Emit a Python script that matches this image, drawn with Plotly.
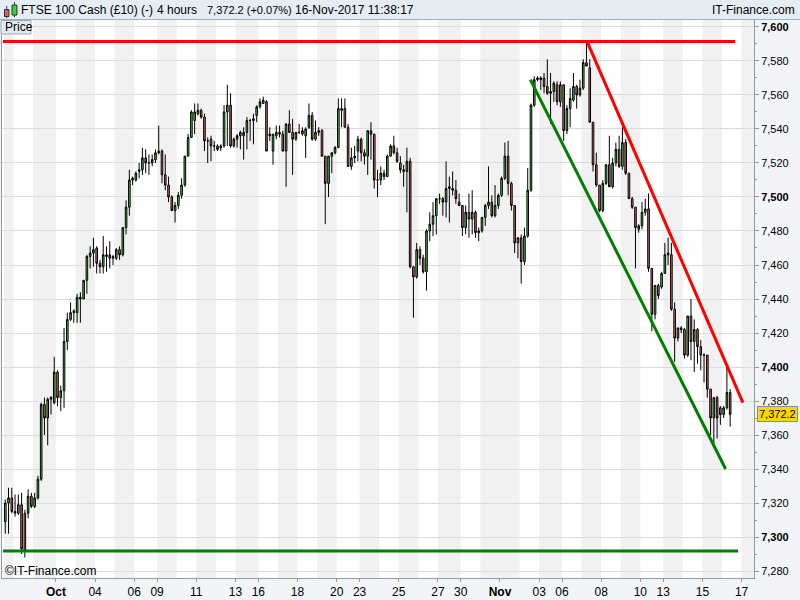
import pandas as pd
import plotly.graph_objects as go

# 4-hour candles, FTSE 100 Cash, 27-Sep-2017 .. 16-Nov-2017
opens = [
    7309, 7320, 7323, 7315, 7314, 7319, 7314, 7314, 7324, 7318,
    7323, 7334, 7378, 7370, 7381, 7379, 7397, 7382, 7386, 7415,
    7428, 7433, 7432, 7441, 7440, 7451, 7465, 7467, 7470, 7461,
    7459, 7466, 7466, 7464, 7464, 7469, 7466, 7482, 7494, 7510,
    7510, 7515, 7516, 7523, 7520, 7520, 7522, 7526, 7527, 7513,
    7507, 7500, 7492, 7495, 7501, 7507, 7524, 7535, 7545, 7549,
    7551, 7547, 7533, 7534, 7530, 7530, 7529, 7530, 7550, 7554,
    7530, 7534, 7536, 7536, 7538, 7545, 7546, 7548, 7553, 7555,
    7556, 7536, 7527, 7536, 7538, 7537, 7527, 7543, 7538, 7534,
    7538, 7537, 7536, 7541, 7548, 7534, 7538, 7539, 7524, 7508,
    7524, 7526, 7529, 7552, 7552, 7541, 7518, 7523, 7527, 7534,
    7526, 7524, 7539, 7537, 7510, 7510, 7514, 7512, 7524, 7530,
    7526, 7520, 7516, 7515, 7521, 7459, 7453, 7469, 7464, 7456,
    7480, 7484, 7489, 7499, 7499, 7497, 7505, 7505, 7504, 7497,
    7495, 7482, 7491, 7487, 7491, 7479, 7480, 7488, 7495, 7497,
    7489, 7495, 7501, 7511, 7524, 7508, 7495, 7473, 7476, 7462,
    7477, 7504, 7554, 7569, 7569, 7570, 7565, 7561, 7562, 7566,
    7556, 7566, 7539, 7552, 7557, 7565, 7560, 7564, 7579, 7576,
    7544, 7519, 7507, 7492, 7508, 7519, 7506, 7520, 7528, 7518,
    7532, 7514, 7499, 7494, 7481, 7483, 7491, 7493, 7458, 7431,
    7448, 7447, 7455, 7466, 7466, 7434, 7417, 7423, 7422, 7407,
    7430, 7415, 7422, 7412, 7407, 7407, 7387, 7370, 7382, 7376,
    7372, 7376, 7385,
]
highs = [
    7322, 7329, 7329, 7325, 7325, 7326, 7316, 7328, 7326, 7326,
    7336, 7379, 7382, 7382, 7383, 7406, 7398, 7389, 7423, 7432,
    7438, 7434, 7443, 7444, 7451, 7466, 7471, 7476, 7471, 7463,
    7477, 7471, 7474, 7466, 7470, 7471, 7482, 7498, 7516, 7512,
    7515, 7520, 7529, 7528, 7525, 7525, 7528, 7542, 7528, 7525,
    7512, 7501, 7497, 7503, 7511, 7524, 7537, 7551, 7555, 7555,
    7552, 7549, 7535, 7536, 7533, 7531, 7531, 7554, 7566, 7561,
    7535, 7537, 7539, 7541, 7547, 7546, 7549, 7554, 7558, 7559,
    7557, 7541, 7537, 7542, 7542, 7539, 7543, 7551, 7546, 7538,
    7543, 7541, 7541, 7555, 7550, 7545, 7541, 7540, 7524, 7524,
    7526, 7530, 7558, 7558, 7558, 7543, 7529, 7530, 7536, 7535,
    7528, 7539, 7544, 7537, 7516, 7518, 7516, 7525, 7531, 7536,
    7529, 7524, 7519, 7529, 7523, 7459, 7473, 7471, 7466, 7481,
    7491, 7497, 7499, 7502, 7500, 7521, 7512, 7515, 7510, 7502,
    7495, 7495, 7502, 7504, 7492, 7482, 7488, 7496, 7518, 7501,
    7507, 7502, 7512, 7532, 7533, 7509, 7495, 7476, 7478, 7482,
    7517, 7555, 7571, 7571, 7571, 7573, 7581, 7573, 7568, 7568,
    7568, 7566, 7554, 7564, 7573, 7566, 7569, 7581, 7591, 7581,
    7544, 7526, 7507, 7510, 7519, 7536, 7523, 7532, 7536, 7541,
    7534, 7514, 7500, 7494, 7484, 7497, 7499, 7502, 7458, 7448,
    7449, 7456, 7473, 7476, 7473, 7438, 7423, 7424, 7423, 7430,
    7440, 7428, 7423, 7416, 7408, 7407, 7387, 7382, 7383, 7377,
    7377, 7400, 7387,
]
lows = [
    7302, 7302, 7314, 7312, 7313, 7290, 7288, 7311, 7317, 7317,
    7322, 7333, 7360, 7354, 7372, 7378, 7377, 7374, 7376, 7410,
    7427, 7426, 7426, 7426, 7440, 7443, 7458, 7459, 7455, 7455,
    7455, 7456, 7458, 7460, 7463, 7463, 7465, 7478, 7489, 7507,
    7509, 7511, 7513, 7514, 7513, 7518, 7520, 7525, 7508, 7504,
    7497, 7492, 7485, 7493, 7499, 7506, 7524, 7535, 7537, 7548,
    7546, 7527, 7520, 7521, 7527, 7527, 7527, 7529, 7530, 7529,
    7529, 7529, 7528, 7522, 7528, 7533, 7531, 7544, 7552, 7555,
    7527, 7533, 7519, 7534, 7535, 7527, 7506, 7538, 7513, 7533,
    7537, 7536, 7523, 7540, 7533, 7533, 7536, 7524, 7484, 7500,
    7514, 7525, 7529, 7541, 7541, 7518, 7516, 7520, 7521, 7521,
    7519, 7513, 7522, 7505, 7500, 7507, 7510, 7512, 7524, 7525,
    7520, 7514, 7506, 7491, 7458, 7429, 7452, 7460, 7455, 7445,
    7474, 7477, 7478, 7496, 7489, 7488, 7485, 7501, 7496, 7495,
    7477, 7478, 7476, 7478, 7476, 7474, 7479, 7483, 7493, 7488,
    7488, 7493, 7500, 7510, 7501, 7492, 7467, 7464, 7449, 7460,
    7476, 7503, 7553, 7568, 7563, 7561, 7560, 7543, 7556, 7554,
    7553, 7533, 7537, 7541, 7556, 7552, 7559, 7563, 7577, 7544,
    7515, 7506, 7491, 7491, 7507, 7506, 7505, 7518, 7517, 7516,
    7513, 7499, 7493, 7458, 7479, 7481, 7489, 7456, 7421, 7428,
    7440, 7446, 7455, 7460, 7433, 7403, 7415, 7420, 7405, 7406,
    7404, 7397, 7402, 7398, 7391, 7382, 7360, 7355, 7358, 7366,
    7370, 7375, 7365,
]
closes = [
    7320, 7323, 7315, 7314, 7319, 7293, 7292, 7324, 7318, 7323,
    7334, 7378, 7370, 7381, 7382, 7397, 7382, 7386, 7415, 7428,
    7432, 7432, 7441, 7440, 7451, 7465, 7467, 7469, 7461, 7459,
    7466, 7465, 7464, 7465, 7469, 7466, 7482, 7494, 7510, 7511,
    7514, 7516, 7523, 7520, 7520, 7522, 7526, 7527, 7513, 7507,
    7500, 7492, 7495, 7501, 7507, 7524, 7535, 7550, 7550, 7551,
    7547, 7533, 7533, 7530, 7530, 7528, 7530, 7550, 7554, 7530,
    7534, 7536, 7538, 7538, 7545, 7545, 7545, 7553, 7556, 7557,
    7527, 7537, 7537, 7538, 7537, 7527, 7543, 7538, 7534, 7538,
    7538, 7539, 7540, 7548, 7534, 7538, 7539, 7524, 7508, 7524,
    7526, 7529, 7552, 7551, 7541, 7518, 7523, 7524, 7534, 7526,
    7524, 7539, 7537, 7510, 7510, 7514, 7512, 7524, 7530, 7526,
    7521, 7516, 7515, 7521, 7459, 7453, 7469, 7464, 7456, 7480,
    7484, 7489, 7499, 7499, 7497, 7505, 7506, 7504, 7499, 7495,
    7482, 7491, 7487, 7491, 7479, 7480, 7488, 7495, 7497, 7489,
    7495, 7501, 7511, 7524, 7508, 7495, 7473, 7476, 7462, 7477,
    7504, 7554, 7569, 7570, 7570, 7565, 7561, 7562, 7567, 7556,
    7566, 7539, 7552, 7558, 7565, 7560, 7564, 7579, 7577, 7544,
    7519, 7507, 7492, 7508, 7519, 7506, 7520, 7528, 7518, 7532,
    7514, 7499, 7494, 7482, 7483, 7491, 7493, 7458, 7431, 7448,
    7442, 7455, 7466, 7467, 7434, 7417, 7423, 7422, 7407, 7430,
    7415, 7422, 7412, 7407, 7407, 7387, 7370, 7382, 7370, 7372,
    7376, 7385, 7372.2,
]

# trading days shown and how many 4h slots each takes (Friday also carries the Sunday-evening candle)
days = pd.bdate_range("2017-09-27", "2017-11-17")
slots_per_day = [3 if d == days[0] else (7 if d.weekday() == 4 else 6) for d in days]

# date axis labels
tick_days = ["2017-10-02", "2017-10-04", "2017-10-06", "2017-10-09", "2017-10-11", "2017-10-13",
             "2017-10-16", "2017-10-18", "2017-10-20", "2017-10-23", "2017-10-25", "2017-10-27",
             "2017-10-30", "2017-11-01", "2017-11-03", "2017-11-06", "2017-11-08", "2017-11-10",
             "2017-11-13", "2017-11-15", "2017-11-17"]
tick_labels = ["<b>Oct</b>", "04", "06", "09", "11", "13", "16", "18", "20", "23", "25", "27",
               "30", "<b>Nov</b>", "03", "06", "08", "10", "13", "15", "17"]

# price axis
price_ticks = list(range(7280, 7601, 20))
last_price = 7372.2

# drawn trend lines: (slot index, price)
resistance_level = 7591.5
support_level = 7291.8
down_trend_upper = [(178.2, 7591.4), (225.9, 7379.0)]
down_trend_lower = [(160.8, 7569.0), (220.6, 7340.0)]

FONT = "Liberation Sans, Arial, sans-serif"
X_RANGE = [-1.0, 229.3]
Y_RANGE = [7275.9, 7604.1]

# day start slots
starts = []
pos = 0
for n in slots_per_day:
    starts.append(pos)
    pos += n
day_start = {d.strftime("%Y-%m-%d"): s for d, s in zip(days, starts)}


def px(x):
    return (x - 1) / 753.0


def py(y):
    return (580 - y) / 560.0


fig = go.Figure()

fig.add_trace(go.Candlestick(
    x=list(range(len(opens))),
    open=opens, high=highs, low=lows, close=closes,
    increasing=dict(fillcolor="#44d444", line=dict(color="#000000", width=1)),
    decreasing=dict(fillcolor="#e86a6a", line=dict(color="#000000", width=1)),
    whiskerwidth=0,
    hoverinfo="skip",
    showlegend=False,
))

shapes = []

# alternating day bands (odd calendar days shaded)
for i, d in enumerate(days):
    x0 = starts[i] - 0.5
    x1 = starts[i + 1] - 0.5 if i + 1 < len(days) else X_RANGE[1]
    if d.day % 2 == 1:
        shapes.append(dict(type="rect", xref="x", yref="paper", x0=x0, x1=x1, y0=0, y1=1,
                           fillcolor="#f1f1f1", line=dict(width=0), layer="below"))

# trend lines
shapes += [
    dict(type="line", xref="x", yref="y", x0=-0.7, x1=223.5, y0=resistance_level, y1=resistance_level,
         line=dict(color="#ff0000", width=3)),
    dict(type="line", xref="x", yref="y", x0=-0.7, x1=224.4, y0=support_level, y1=support_level,
         line=dict(color="#008000", width=3)),
    dict(type="line", xref="x", yref="y",
         x0=down_trend_upper[0][0], y0=down_trend_upper[0][1],
         x1=down_trend_upper[1][0], y1=down_trend_upper[1][1],
         line=dict(color="#ff0000", width=3)),
    dict(type="line", xref="x", yref="y",
         x0=down_trend_lower[0][0], y0=down_trend_lower[0][1],
         x1=down_trend_lower[1][0], y1=down_trend_lower[1][1],
         line=dict(color="#008000", width=3)),
]

# header bar
shapes += [
    dict(type="rect", xref="paper", yref="paper", x0=px(-2), x1=px(802), y0=py(19.5), y1=py(-2),
         fillcolor="#e4edf4", line=dict(color="#9fb0c0", width=1), layer="above"),
    # little candle icon
    dict(type="line", xref="paper", yref="paper", x0=px(5.7), x1=px(5.7), y0=py(18), y1=py(6),
         line=dict(color="#333333", width=1)),
    dict(type="rect", xref="paper", yref="paper", x0=px(3.5), x1=px(8), y0=py(16.5), y1=py(9.5),
         fillcolor="#e06060", line=dict(color="#333333", width=1)),
    dict(type="line", xref="paper", yref="paper", x0=px(13.5), x1=px(13.5), y0=py(17), y1=py(2),
         line=dict(color="#333333", width=1)),
    dict(type="rect", xref="paper", yref="paper", x0=px(11), x1=px(16), y0=py(15), y1=py(5),
         fillcolor="#40d040", line=dict(color="#333333", width=1)),
    # "Price" tab
    dict(type="rect", xref="paper", yref="paper", x0=px(0), x1=px(30), y0=py(34), y1=py(20.5),
         fillcolor="#e6eaee", line=dict(color="#9aa8b5", width=1)),
]

annotations = [
    dict(text="FTSE 100 Cash (£10) (-)", x=px(18), xanchor="left", font=dict(size=12)),
    dict(text="4 hours", x=px(154), xanchor="left", font=dict(size=12)),
    dict(text="7,372.2 (+0.07%)", x=px(204), xanchor="left", font=dict(size=11)),
    dict(text="16-Nov-2017 11:38:17", x=px(292), xanchor="left", font=dict(size=12)),
    dict(text="IT-Finance.com", x=px(797), xanchor="right", font=dict(size=12)),
]
for a in annotations:
    a["font"].update(family=FONT, color="#000000")
    a.update(xref="paper", yref="paper", y=py(10), yanchor="middle", showarrow=False)

annotations += [
    dict(text="Price", xref="paper", yref="paper", x=px(2), y=py(27.5), xanchor="left", yanchor="middle",
         showarrow=False, font=dict(family=FONT, size=12, color="#000000")),
    dict(text="©IT-Finance.com", xref="paper", yref="paper", x=px(2), y=py(573), xanchor="left",
         yanchor="middle", showarrow=False, font=dict(family=FONT, size=12, color="#000000")),
    dict(text="7,372.2", xref="paper", yref="y", x=px(757), y=last_price, xanchor="left", yanchor="middle",
         showarrow=False, bgcolor="#ffd700", bordercolor="#7f8fa0", borderwidth=1, borderpad=1,
         font=dict(family=FONT, size=11, color="#000000")),
]

y_text = [("<b>%s</b>" % f"{v:,}") if v % 100 == 0 else f"{v:,}" for v in price_ticks]

fig.update_layout(
    width=800, height=600,
    margin=dict(l=1, r=46, t=20, b=20),
    paper_bgcolor="#f2f4f7",
    plot_bgcolor="#ffffff",
    shapes=shapes,
    annotations=annotations,
    showlegend=False,
    hovermode=False,
    font=dict(family=FONT, size=11, color="#000000"),
    xaxis=dict(
        range=X_RANGE,
        rangeslider=dict(visible=False),
        tickmode="array",
        tickvals=[day_start[d] - 0.5 for d in tick_days],
        ticktext=tick_labels,
        ticks="outside", ticklen=3, tickcolor="#8c9cac",
        showgrid=False, zeroline=False,
        showline=True, linecolor="#8c9cac", linewidth=1, mirror=True,
        tickfont=dict(family=FONT, size=12, color="#000000"),
    ),
    yaxis=dict(
        range=Y_RANGE,
        side="right",
        tickmode="array",
        tickvals=price_ticks,
        ticktext=y_text,
        ticks="outside", ticklen=4, tickcolor="#8c9cac",
        minor=dict(dtick=10, tick0=7280, ticks="outside", ticklen=2, tickcolor="#8c9cac", showgrid=False),
        showgrid=True, gridcolor="#dcdcdc", gridwidth=1,
        zeroline=False,
        showline=True, linecolor="#8c9cac", linewidth=1, mirror=True,
        tickfont=dict(family=FONT, size=11, color="#000000"),
    ),
)

# page body has a default 8px margin; drop it so the figure sits at the window origin
fig.write_html("out.html", config={"displayModeBar": False},
               post_script="document.body.style.margin='0px';")
